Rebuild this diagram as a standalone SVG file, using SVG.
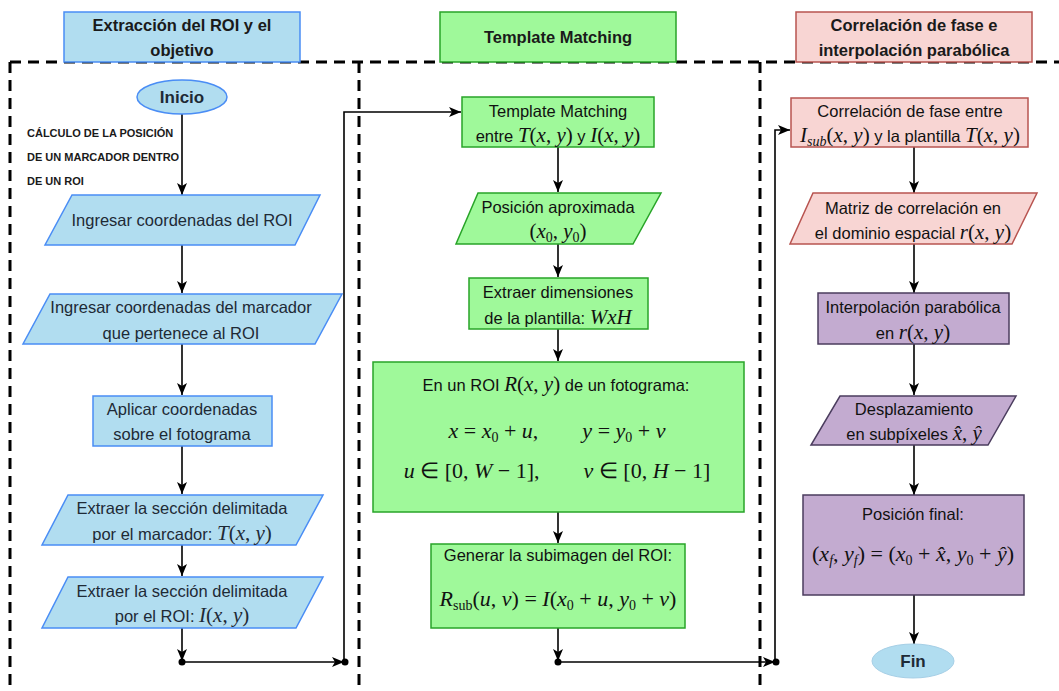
<svg xmlns="http://www.w3.org/2000/svg" width="1059" height="691" viewBox="0 0 1059 691">
<style>
.t{font-family:"Liberation Sans",Arial,sans-serif;font-size:16.5px;text-anchor:middle;fill:#111}
.tb{fill:#1e2a36}
.h{font-family:"Liberation Sans",Arial,sans-serif;font-size:16.5px;font-weight:bold;text-anchor:middle;fill:#1a1a1a}
.lab{font-family:"Liberation Sans",Arial,sans-serif;font-size:11px;font-weight:bold;fill:#1a1a1a}
.m{font-family:"Liberation Serif","Times New Roman",serif;font-size:21px}
.d{font-size:22px}
.i{font-style:italic}
.s{font-size:14px}
.blue{fill:#b1ddf0;stroke:#4a8df5;stroke-width:1.5}
.green{fill:#9ff99a;stroke:#28a428;stroke-width:1.5}
.pink{fill:#f8d5d3;stroke:#b85450;stroke-width:1.5}
.purple{fill:#c3abd0;stroke:#4b3d5e;stroke-width:1.5}
.dash{fill:none;stroke:#000;stroke-width:3;stroke-dasharray:11 7}
.c{fill:none;stroke:#000;stroke-width:1.6}
.dot{fill:#000}
</style>
<defs>
<marker id="a" markerUnits="userSpaceOnUse" markerWidth="13" markerHeight="11" refX="12" refY="5" orient="auto">
<path d="M0,0 L12,5 L0,10 L3,5 Z" fill="#000"/>
</marker>
</defs>
<rect width="1059" height="691" fill="#fff"/>

<g id="frame">
<path class="dash" d="M10,62 H1059 M10,62 V691 M359,62 V691 M760,62 V691"/>
</g>

<g id="headers">
<g id="h1"><rect class="blue" x="64" y="12" width="236" height="50"/>
<text class="h" x="182" y="31">Extracción del ROI y el</text>
<text class="h" x="182" y="56">objetivo</text></g>
<g id="h2"><rect class="green" x="440" y="12" width="236" height="50"/>
<text class="h" x="558" y="43">Template Matching</text></g>
<g id="h3"><rect class="pink" x="796" y="12" width="236" height="50"/>
<text class="h" x="914" y="31">Correlación de fase e</text>
<text class="h" x="914" y="56">interpolación parabólica</text></g>
</g>

<g id="connectors">
<path class="c" marker-end="url(#a)" d="M182,114 V195"/>
<path class="c" marker-end="url(#a)" d="M182,245 V293"/>
<path class="c" marker-end="url(#a)" d="M182,344 V395"/>
<path class="c" marker-end="url(#a)" d="M182,446 V494"/>
<path class="c" marker-end="url(#a)" d="M182,545 V576"/>
<path class="c" marker-end="url(#a)" d="M182,628 V661"/>
<path class="c" marker-end="url(#a)" d="M182,662 H344"/>
<path class="c" marker-end="url(#a)" d="M344,662 V112 H461"/>
<path class="c" marker-end="url(#a)" d="M558,147 V192"/>
<path class="c" marker-end="url(#a)" d="M558,244 V277"/>
<path class="c" marker-end="url(#a)" d="M558,329 V361"/>
<path class="c" marker-end="url(#a)" d="M558,512 V543"/>
<path class="c" marker-end="url(#a)" d="M558,628 V661"/>
<path class="c" marker-end="url(#a)" d="M558,662 H775"/>
<path class="c" marker-end="url(#a)" d="M775,662 V130 H790"/>
<path class="c" marker-end="url(#a)" d="M914,147 V193"/>
<path class="c" marker-end="url(#a)" d="M914,244 V293"/>
<path class="c" marker-end="url(#a)" d="M914,344 V395"/>
<path class="c" marker-end="url(#a)" d="M914,445 V495"/>
<path class="c" marker-end="url(#a)" d="M914,595 V644"/>
<circle class="dot" cx="182" cy="662" r="3.5"/>
<circle class="dot" cx="345" cy="662" r="3.5"/>
<circle class="dot" cx="558" cy="662" r="3.5"/>
<circle class="dot" cx="776" cy="662" r="3.5"/>
</g>

<g id="inicio">
<ellipse class="blue" cx="182" cy="97" rx="45" ry="17"/>
<text class="h" x="182" y="103" style="fill:#1e2a36;font-size:17px">Inicio</text>
</g>
<g id="label">
<text class="lab" x="27" y="137">CÁLCULO DE LA POSICIÓN</text>
<text class="lab" x="27" y="161">DE UN MARCADOR DENTRO</text>
<text class="lab" x="27" y="185">DE UN ROI</text>
</g>

<g id="n1">
<polygon class="blue" points="72,195 320,195 295,245 45,245"/>
<text class="t tb" x="182" y="226">Ingresar coordenadas del ROI</text>
</g>
<g id="n2">
<polygon class="blue" points="50,294 342,294 315,344 23,344"/>
<text class="t tb" x="181" y="313">Ingresar coordenadas del marcador</text>
<text class="t tb" x="181" y="339">que pertenece al ROI</text>
</g>
<g id="n3">
<rect class="blue" x="93" y="396" width="179" height="50"/>
<text class="t tb" x="182" y="415">Aplicar coordenadas</text>
<text class="t tb" x="182" y="440">sobre el fotograma</text>
</g>
<g id="n4">
<polygon class="blue" points="68,495 323,495 296,545 42,545"/>
<text class="t tb" x="182" y="514">Extraer la sección delimitada</text>
<text class="t tb" x="182" y="540">por el marcador: <tspan class="m i">T</tspan><tspan class="m">(</tspan><tspan class="m i">x</tspan><tspan class="m">, </tspan><tspan class="m i">y</tspan><tspan class="m">)</tspan></text>
</g>
<g id="n5">
<polygon class="blue" points="68,577 323,577 296,628 42,628"/>
<text class="t tb" x="182" y="597">Extraer la sección delimitada</text>
<text class="t tb" x="182" y="622">por el ROI: <tspan class="m i">I</tspan><tspan class="m">(</tspan><tspan class="m i">x</tspan><tspan class="m">, </tspan><tspan class="m i">y</tspan><tspan class="m">)</tspan></text>
</g>

<g id="c1">
<rect class="green" x="462" y="97" width="192" height="50"/>
<text class="t" x="558" y="117">Template Matching</text>
<text class="t" x="558" y="142">entre <tspan class="m i">T</tspan><tspan class="m">(</tspan><tspan class="m i">x</tspan><tspan class="m">, </tspan><tspan class="m i">y</tspan><tspan class="m">)</tspan> y <tspan class="m i">I</tspan><tspan class="m">(</tspan><tspan class="m i">x</tspan><tspan class="m">, </tspan><tspan class="m i">y</tspan><tspan class="m">)</tspan></text>
</g>
<g id="c2">
<polygon class="green" points="478,193 661,193 633,244 456,244"/>
<text class="t" x="558" y="213">Posición aproximada</text>
<text class="t m" x="558" y="238">(<tspan class="i">x</tspan><tspan class="s" dy="4">0</tspan><tspan dy="-4">, </tspan><tspan class="i">y</tspan><tspan class="s" dy="4">0</tspan><tspan dy="-4">)</tspan></text>
</g>
<g id="c3">
<rect class="green" x="469" y="278" width="179" height="51"/>
<text class="t" x="558" y="298">Extraer dimensiones</text>
<text class="t" x="558" y="324">de la plantilla:  <tspan class="m i">WxH</tspan></text>
</g>
<g id="c4">
<rect class="green" x="373" y="362" width="371" height="150"/>
<text class="t" x="556" y="391">En un ROI <tspan class="m i">R</tspan><tspan class="m">(</tspan><tspan class="m i">x</tspan><tspan class="m">, </tspan><tspan class="m i">y</tspan><tspan class="m">)</tspan> de un fotograma:</text>
<text class="t m d" x="557" y="438"><tspan class="i">x</tspan> = <tspan class="i">x</tspan><tspan class="s" dy="4">0</tspan><tspan dy="-4"> + </tspan><tspan class="i">u</tspan>,&#8195;&#8195;<tspan class="i">y</tspan> = <tspan class="i">y</tspan><tspan class="s" dy="4">0</tspan><tspan dy="-4"> + </tspan><tspan class="i">v</tspan></text>
<text class="t m d" x="557" y="478"><tspan class="i">u</tspan> ∈ [0, <tspan class="i">W</tspan> − 1],&#8195;&#8195;<tspan class="i">v</tspan> ∈ [0, <tspan class="i">H</tspan> − 1]</text>
</g>
<g id="c5">
<rect class="green" x="431" y="544" width="254" height="84"/>
<text class="t" x="558" y="561">Generar la subimagen del ROI:</text>
<text class="t m d" x="558" y="606"><tspan class="i">R</tspan><tspan class="s" dy="4">sub</tspan><tspan dy="-4">(</tspan><tspan class="i">u</tspan>, <tspan class="i">v</tspan>) = <tspan class="i">I</tspan>(<tspan class="i">x</tspan><tspan class="s" dy="4">0</tspan><tspan dy="-4"> + </tspan><tspan class="i">u</tspan>, <tspan class="i">y</tspan><tspan class="s" dy="4">0</tspan><tspan dy="-4"> + </tspan><tspan class="i">v</tspan>)</text>
</g>

<g id="r1">
<rect class="pink" x="791" y="98" width="237" height="49"/>
<text class="t" x="910" y="117">Correlación de fase entre</text>
<text class="t" x="910" y="142"><tspan class="m i">I</tspan><tspan class="m i s" dy="4">sub</tspan><tspan class="m" dy="-4">(</tspan><tspan class="m i">x</tspan><tspan class="m">, </tspan><tspan class="m i">y</tspan><tspan class="m">)</tspan>  y la plantilla <tspan class="m i">T</tspan><tspan class="m">(</tspan><tspan class="m i">x</tspan><tspan class="m">, </tspan><tspan class="m i">y</tspan><tspan class="m">)</tspan></text>
</g>
<g id="r2">
<polygon class="pink" points="813,193 1037,193 1012,244 790,244"/>
<text class="t" x="913" y="214">Matriz de correlación en</text>
<text class="t" x="913" y="239">el dominio espacial <tspan class="m i">r</tspan><tspan class="m">(</tspan><tspan class="m i">x</tspan><tspan class="m">, </tspan><tspan class="m i">y</tspan><tspan class="m">)</tspan></text>
</g>
<g id="r3">
<rect class="purple" x="818" y="293" width="191" height="51"/>
<text class="t" x="913" y="313">Interpolación parabólica</text>
<text class="t" x="913" y="339">en <tspan class="m i">r</tspan><tspan class="m">(</tspan><tspan class="m i">x</tspan><tspan class="m">, </tspan><tspan class="m i">y</tspan><tspan class="m">)</tspan></text>
</g>
<g id="r4">
<polygon class="purple" points="840,396 1016,396 988,445 811,445"/>
<text class="t" x="914" y="415">Desplazamiento</text>
<text class="t" x="914" y="440">en subpíxeles <tspan class="m i">x̂</tspan><tspan class="m">, </tspan><tspan class="m i">ŷ</tspan></text>
</g>
<g id="r5">
<rect class="purple" x="803" y="495" width="221" height="100"/>
<text class="t" x="913" y="520">Posición final:</text>
<text class="t m d" x="913" y="561">(<tspan class="i">x</tspan><tspan class="s i" dy="4">f</tspan><tspan dy="-4">, </tspan><tspan class="i">y</tspan><tspan class="s i" dy="4">f</tspan><tspan dy="-4">) = (</tspan><tspan class="i">x</tspan><tspan class="s" dy="4">0</tspan><tspan dy="-4"> + </tspan><tspan class="i">x̂</tspan>, <tspan class="i">y</tspan><tspan class="s" dy="4">0</tspan><tspan dy="-4"> + </tspan><tspan class="i">ŷ</tspan>)</text>
</g>
<g id="fin">
<ellipse cx="913" cy="661" rx="41" ry="17" fill="#b1ddf0" stroke="#a6cfe6" stroke-width="1"/>
<text class="h" x="913" y="667" style="fill:#1e2a36;font-size:17px">Fin</text>
</g>
</svg>
